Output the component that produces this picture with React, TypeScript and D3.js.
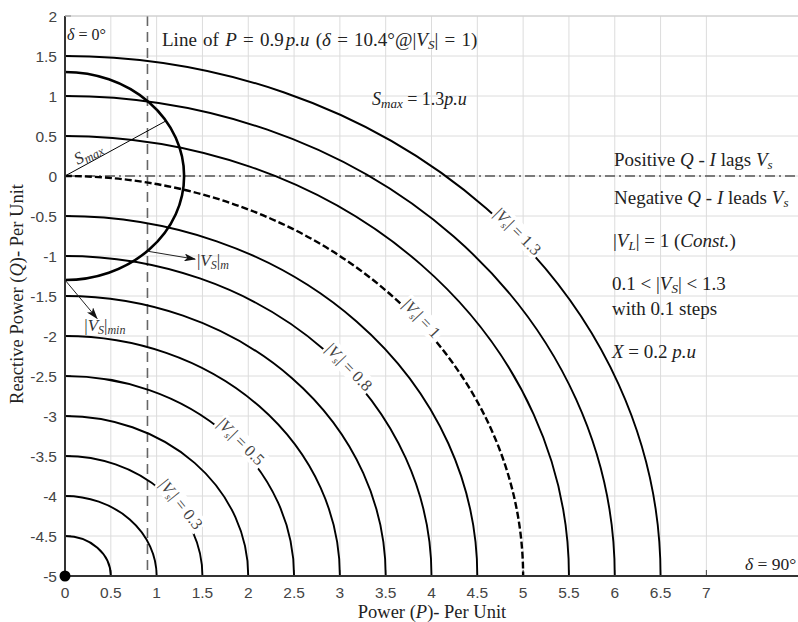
import * as d3 from "d3";

// |Vs| levels drawn as quarter circles, X = 0.2 p.u, |VL| = 1
const vsLevels = [0.1, 0.2, 0.3, 0.4, 0.5, 0.6, 0.7, 0.8, 0.9, 1.0, 1.1, 1.2, 1.3];
const reactance = 0.2;
const vLoad = 1;
const sMax = 1.3;
const pLine = 0.9;
const sMaxAngle = 32; // degrees, radius line for the S_max label

const xTicks = [0, 0.5, 1, 1.5, 2, 2.5, 3, 3.5, 4, 4.5, 5, 5.5, 6, 6.5, 7];
const yTicks = [-5, -4.5, -4, -3.5, -3, -2.5, -2, -1.5, -1, -0.5, 0, 0.5, 1, 1.5, 2];

// labelled arcs and the angle (deg) on the arc where the label sits
const arcLabelVs = [0.3, 0.5, 0.8, 1, 1.3];
const arcLabelTheta = [35, 41, 40, 39.5, 41];

const width = 798;
const height = 622;
const serif = "'Liberation Serif', 'Times New Roman', serif";
const sans = "'Liberation Sans', Arial, sans-serif";

export default function App() {
  const x = d3.scaleLinear().domain([0, 8]).range([65, 798]);
  const y = d3.scaleLinear().domain([-5, 2]).range([576, 16]);

  const centerQ = -(vLoad * vLoad) / reactance;
  const radius = (vs: number) => (vs * vLoad) / reactance;

  const arcPath = (r: number) => {
    const rx = x(r) - x(0);
    const ry = y(centerQ) - y(centerQ + r);
    return `M${x(0)},${y(centerQ + r)} A${rx},${ry} 0 0 1 ${x(r)},${y(centerQ)}`;
  };

  const smaxPath = (() => {
    const rx = x(sMax) - x(0);
    const ry = y(0) - y(sMax);
    return `M${x(0)},${y(sMax)} A${rx},${ry} 0 0 1 ${x(0)},${y(-sMax)}`;
  })();

  const rad = (sMaxAngle * Math.PI) / 180;
  const smEnd = [x(sMax * Math.cos(rad)), y(sMax * Math.sin(rad))];
  const smRot = (Math.atan2(smEnd[1] - y(0), smEnd[0] - x(0)) * 180) / Math.PI;
  const smStart = x(0.14);

  const vsLabel = (v: number) => (
    <>
      <tspan>|</tspan>
      <tspan fontStyle="italic">V</tspan>
      <tspan fontStyle="italic" fontSize={10} dy={3}>s</tspan>
      <tspan dy={-3}>| = {v}</tspan>
    </>
  );

  return (
    <div style={{ position: "absolute", left: 0, top: 0 }}>
      <svg width={width} height={height} style={{ display: "block", background: "#fff" }}>
        <defs>
          <marker id="arr" viewBox="0 0 12 8" refX="11" refY="4" markerWidth="12" markerHeight="8"
            markerUnits="userSpaceOnUse" orient="auto">
            <path d="M0,0 L12,4 L0,8 L3,4 z" fill="#111" />
          </marker>
        </defs>

        {/* grid */}
        <g stroke="#dcdcdc" strokeWidth={1}>
          {xTicks.map((t) => (
            <line key={"gx" + t} x1={x(t)} x2={x(t)} y1={y(2)} y2={y(-5)} />
          ))}
          {yTicks.map((t) => (
            <line key={"gy" + t} x1={x(0)} x2={width} y1={y(t)} y2={y(t)} />
          ))}
        </g>

        {/* tick marks */}
        <g stroke="#444" strokeWidth={1}>
          {xTicks.map((t) => (
            <line key={"tx" + t} x1={x(t)} x2={x(t)} y1={y(-5)} y2={y(-5) - 6} />
          ))}
          {yTicks.map((t) => (
            <line key={"ty" + t} x1={x(0)} x2={x(0) + 6} y1={y(t)} y2={y(t)} />
          ))}
        </g>

        {/* Q = 0 dash-dot */}
        <line x1={x(0)} x2={width} y1={y(0)} y2={y(0)} stroke="#555" strokeWidth={1.3}
          strokeDasharray="10,4,2,4" />

        {/* P = 0.9 dashed */}
        <line x1={x(pLine)} x2={x(pLine)} y1={y(2)} y2={y(-5)} stroke="#666" strokeWidth={1.6}
          strokeDasharray="10,6" />

        {/* |Vs| arcs */}
        <g fill="none" stroke="#000">
          {vsLevels.map((v) => (
            <path key={"arc" + v} d={arcPath(radius(v))}
              strokeWidth={v === 1 ? 2.4 : 1.9}
              strokeDasharray={v === 1 ? "7,3" : undefined} />
          ))}
        </g>

        {/* Smax circle */}
        <path d={smaxPath} fill="none" stroke="#000" strokeWidth={2.6} />
        <line x1={x(0)} y1={y(0)} x2={smEnd[0]} y2={smEnd[1]} stroke="#000" strokeWidth={1} />
        <text transform={`translate(${smStart},${y(0) + (smStart - x(0)) * Math.tan((smRot * Math.PI) / 180) - 4}) rotate(${smRot})`}
          fontFamily={serif} fontSize={17} fill="#333">
          <tspan fontStyle="italic">S</tspan>
          <tspan fontStyle="italic" fontSize={12.5} dy={3}>max</tspan>
        </text>

        {/* axes */}
        <line x1={x(0)} x2={x(0)} y1={y(2)} y2={y(-5)} stroke="#333" strokeWidth={2} />
        <line x1={x(0)} x2={width} y1={y(-5)} y2={y(-5)} stroke="#333" strokeWidth={2} />
        <line x1={x(0)} x2={width} y1={y(2)} y2={y(2)} stroke="#ccc" strokeWidth={1.2} />
        <circle cx={x(0)} cy={y(-5)} r={5.5} fill="#000" />

        {/* arc labels: baseline sitting on the arc, arc blanked under the text */}
        {arcLabelVs.map((v, i) => {
          const th = (arcLabelTheta[i] * Math.PI) / 180;
          const r = radius(v);
          const px = x(r * Math.cos(th));
          const py = y(centerQ + r * Math.sin(th));
          const kx = x(1) - x(0);
          const ky = y(0) - y(1);
          const rot = (Math.atan2(ky * Math.cos(th), kx * Math.sin(th)) * 180) / Math.PI;
          const w = 44 + String(v).length * 6;
          return (
            <g key={"al" + v} transform={`translate(${px},${py}) rotate(${rot})`}>
              <rect x={-w / 2} y={-14} width={w} height={19} fill="#fff" />
              <text textAnchor="middle" dy={1} fontFamily={serif} fontSize={16.5} fill="#444">
                {vsLabel(v)}
              </text>
            </g>
          );
        })}

        {/* arrows */}
        <line x1={x(0.9)} y1={y(-0.94)} x2={x(1.42)} y2={y(-1.04)} stroke="#222" strokeWidth={1}
          markerEnd="url(#arr)" />
        <text x={x(1.44)} y={y(-1.12)} fontFamily={serif} fontSize={17} fill="#333">
          |<tspan fontStyle="italic">V</tspan>
          <tspan fontStyle="italic" fontSize={12} dy={3}>S</tspan>
          <tspan dy={-3}>|</tspan>
          <tspan fontStyle="italic" fontSize={12} dy={3}>m</tspan>
        </text>
        <line x1={x(0)} y1={y(-1.3)} x2={x(0.35)} y2={y(-1.78)} stroke="#222" strokeWidth={1}
          markerEnd="url(#arr)" />
        <text x={x(0.21)} y={y(-1.94)} fontFamily={serif} fontSize={17} fill="#333">
          |<tspan fontStyle="italic">V</tspan>
          <tspan fontStyle="italic" fontSize={12} dy={3}>S</tspan>
          <tspan dy={-3}>|</tspan>
          <tspan fontStyle="italic" fontSize={12} dy={3}>min</tspan>
        </text>

        {/* tick labels */}
        <g fontFamily={sans} fontSize={15.5} fill="#444">
          {xTicks.map((t) => (
            <text key={"lx" + t} x={x(t)} y={y(-5) + 22} textAnchor="middle">{String(t)}</text>
          ))}
          {yTicks.map((t) => (
            <text key={"ly" + t} x={x(0) - 8} y={y(t) + 5.5} textAnchor="end">{String(t)}</text>
          ))}
        </g>

        {/* axis titles */}
        <text x={432} y={618} textAnchor="middle" fontFamily={serif} fontSize={18.5} fill="#222">
          Power (<tspan fontStyle="italic">P</tspan>)- Per Unit
        </text>
        <text transform={`translate(23,${294}) rotate(-90)`} textAnchor="middle" fontFamily={serif}
          fontSize={18.5} fill="#222">
          Reactive Power (<tspan fontStyle="italic">Q</tspan>)- Per Unit
        </text>

        {/* annotations */}
        <g fontFamily={serif} fill="#222">
          <text x={67} y={40} fontSize={16}>
            <tspan fontStyle="italic">δ</tspan> = 0°
          </text>
          <text x={745} y={570} fontSize={17.5}>
            <tspan fontStyle="italic">δ</tspan> = 90°
          </text>
          <text x={162} y={46} fontSize={19} wordSpacing={1.5}>
            Line of <tspan fontStyle="italic">P</tspan> = 0.9<tspan dx={2} fontStyle="italic">p.u</tspan>{" "}
            (<tspan fontStyle="italic">δ</tspan> = 10.4°@|<tspan fontStyle="italic">V</tspan>
            <tspan fontStyle="italic" fontSize={13} dy={3}>S</tspan>
            <tspan dy={-3}>| = 1)</tspan>
          </text>
          <text x={372} y={105} fontSize={18}>
            <tspan fontStyle="italic">S</tspan>
            <tspan fontStyle="italic" fontSize={13} dy={3}>max</tspan>
            <tspan dy={-3}> = 1.3</tspan>
            <tspan fontStyle="italic">p.u</tspan>
          </text>
          <text x={614} y={166} fontSize={19}>
            Positive <tspan fontStyle="italic">Q</tspan> - <tspan fontStyle="italic">I</tspan> lags{" "}
            <tspan fontStyle="italic">V</tspan>
            <tspan fontStyle="italic" fontSize={13} dy={3}>s</tspan>
          </text>
          <text x={614} y={204} fontSize={19}>
            Negative <tspan fontStyle="italic">Q</tspan> - <tspan fontStyle="italic">I</tspan> leads{" "}
            <tspan fontStyle="italic">V</tspan>
            <tspan fontStyle="italic" fontSize={13} dy={3}>s</tspan>
          </text>
          <text x={613} y={247} fontSize={19}>
            |<tspan fontStyle="italic">V</tspan>
            <tspan fontStyle="italic" fontSize={13} dy={3}>L</tspan>
            <tspan dy={-3}>| = 1 (</tspan>
            <tspan fontStyle="italic">Const.</tspan>)
          </text>
          <text x={612} y={290} fontSize={19}>
            0.1 &lt; |<tspan fontStyle="italic">V</tspan>
            <tspan fontStyle="italic" fontSize={13} dy={3}>S</tspan>
            <tspan dy={-3}>| &lt; 1.3</tspan>
          </text>
          <text x={612} y={315} fontSize={19}>with 0.1 steps</text>
          <text x={612} y={358} fontSize={19}>
            <tspan fontStyle="italic">X</tspan> = 0.2 <tspan fontStyle="italic">p.u</tspan>
          </text>
        </g>
      </svg>
    </div>
  );
}
